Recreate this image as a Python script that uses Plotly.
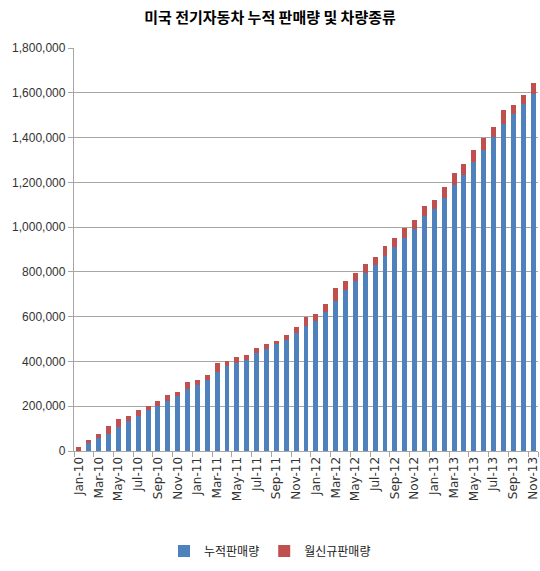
import plotly.graph_objects as go

months = []
for yr in ["10", "11", "12", "13"]:
    for m in ["Jan", "Feb", "Mar", "Apr", "May", "Jun", "Jul", "Aug", "Sep", "Oct", "Nov", "Dec"]:
        months.append(f"{m}-{yr}")
months = months[:47]  # Jan-10 .. Nov-13

cumulative = [0, 37000, 56000, 77000, 107000, 135000, 156000, 182000, 200000, 223000,
              244000, 278000, 294000, 318000, 353000, 380000, 394000, 406000, 436000, 455000,
              478000, 495000, 525000, 558000, 582000, 620000, 670000, 720000, 760000, 793000,
              829000, 869000, 910000, 951000, 993000, 1048000, 1082000, 1132000, 1186000, 1235000,
              1291000, 1344000, 1403000, 1460000, 1504000, 1552000, 1594000]

monthly_new = [17000, 13000, 21000, 33000, 37000, 22000, 26000, 18000, 23000, 29000,
               21000, 29000, 23000, 23000, 38000, 21000, 24000, 25000, 22000, 23000,
               13000, 23000, 30000, 39000, 29000, 36000, 57000, 40000, 35000, 43000,
               36000, 48000, 41000, 44000, 41000, 48000, 41000, 46000, 54000, 48000,
               53000, 56000, 44000, 62000, 41000, 39000, 48000]

tick_labels = months[::2]
y_ticks = list(range(0, 1800001, 200000))

fig = go.Figure()
fig.add_trace(go.Bar(x=months, y=cumulative, name="누적판매량", marker_color="#4F81BD",
                     marker_line_width=0))
fig.add_trace(go.Bar(x=months, y=monthly_new, name="월신규판매량", marker_color="#C0504D",
                     marker_line_width=0))

fig.update_layout(
    width=540, height=571,
    barmode="stack", bargap=0.5,
    paper_bgcolor="white", plot_bgcolor="white",
    margin=dict(l=74, r=0, t=48, b=120),
    title=dict(text="<b>미국 전기자동차 누적 판매량 및 차량종류</b>",
               font=dict(family="Noto Sans CJK KR", size=15, color="#000000"),
               x=0.5, xref="container", xanchor="center",
               y=1 - 18 / 571, yref="container", yanchor="middle"),
    legend=dict(orientation="h", x=0.5, xref="container", xanchor="center",
                y=20 / 571, yref="container", yanchor="middle",
                traceorder="normal", itemwidth=30,
                font=dict(family="Noto Sans CJK KR", size=12, color="#222222")),
    showlegend=True,
)

fig.update_yaxes(
    range=[0, 1800000], tickvals=y_ticks,
    tickformat=",d",
    showgrid=True, gridcolor="#A6A6A6", gridwidth=1.3,
    showline=True, linecolor="#A6A6A6", linewidth=1.3,
    ticks="outside", ticklen=5, tickcolor="#A6A6A6",
    tickfont=dict(family="Liberation Sans", size=12, color="#333333"),
    zeroline=False,
)
fig.update_xaxes(
    type="category", tickmode="array", tickvals=tick_labels, ticktext=tick_labels,
    tickangle=-90, tickson="boundaries",
    showline=True, linecolor="#A6A6A6", linewidth=1.3,
    ticks="outside", ticklen=5, tickcolor="#A6A6A6",
    tickfont=dict(family="DejaVu Sans", size=12, color="#333333"),
    showgrid=False,
)

fig.write_html("out.html")
